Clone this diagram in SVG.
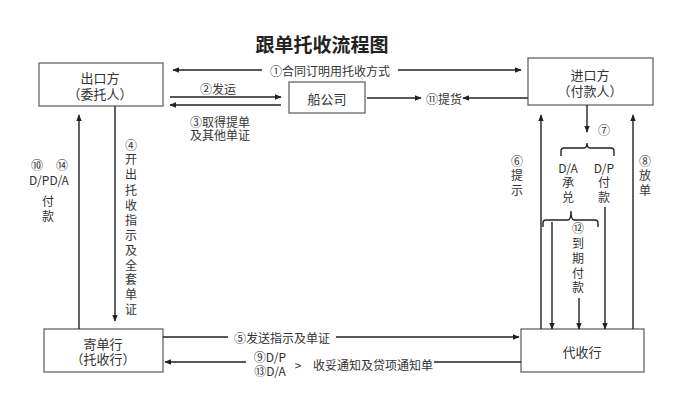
<svg xmlns="http://www.w3.org/2000/svg" width="686" height="403" viewBox="0 0 686 403">
<defs>
<marker id="ah" viewBox="0 0 10 10" refX="9" refY="5" markerWidth="7" markerHeight="7" orient="auto-start-reverse" markerUnits="userSpaceOnUse">
<path d="M0,1 L10,5 L0,9 Z" fill="#222"/>
</marker>
<style>
.box{fill:#fff;stroke:#666;stroke-width:1.3}
.t{font-family:"Noto Sans CJK SC","Noto Sans",sans-serif;font-size:12px;fill:#333;text-anchor:middle;dominant-baseline:central}
.bt{font-family:"Noto Sans CJK SC","Noto Sans",sans-serif;font-size:13px;fill:#333;text-anchor:middle;dominant-baseline:central}
.ln{stroke:#222;stroke-width:1.4;fill:none}
.a{marker-end:url(#ah)}
</style>
</defs>
<rect width="686" height="403" fill="#fff"/>
<text x="322" y="43" font-family="'Noto Sans CJK SC',sans-serif" font-size="19" font-weight="bold" fill="#222" text-anchor="middle" dominant-baseline="central">跟单托收流程图</text>

<g id="exporter"><rect class="box" x="39" y="63" width="124" height="43"/><text class="bt" x="100" y="77">出口方</text><text class="bt" x="100" y="93">（委托人）</text></g>
<g id="importer"><rect class="box" x="528" y="58" width="125" height="47"/><text class="bt" x="590" y="74">进口方</text><text class="bt" x="590" y="90">（付款人）</text></g>
<g id="shipping"><rect class="box" x="289" y="82" width="76" height="31"/><text class="bt" x="327" y="98">船公司</text></g>
<g id="remitting"><rect class="box" x="44" y="329" width="119" height="43"/><text class="bt" x="103" y="343">寄单行</text><text class="bt" x="103" y="358">（托收行）</text></g>
<g id="collecting"><rect class="box" x="521" y="329" width="123" height="43"/><text class="bt" x="582" y="351">代收行</text></g>

<g id="connectors">
<line class="ln a" x1="262" y1="70" x2="173" y2="70"/>
<line class="ln a" x1="398" y1="70" x2="521" y2="70"/>
<line class="ln a" x1="170" y1="97" x2="281" y2="97"/>
<line class="ln a" x1="281" y1="105" x2="170" y2="105"/>
<line class="ln a" x1="367" y1="98" x2="421" y2="98"/>
<line class="ln a" x1="528" y1="98" x2="463" y2="98"/>
<line class="ln a" x1="115" y1="106" x2="115" y2="321"/>
<line class="ln a" x1="79" y1="329" x2="79" y2="115"/>
<line class="ln" x1="163" y1="337" x2="228" y2="337"/>
<line class="ln a" x1="336" y1="337" x2="519" y2="337"/>
<line class="ln" x1="521" y1="362" x2="434" y2="362"/>
<line class="ln a" x1="246" y1="362" x2="165" y2="362"/>
<line class="ln a" x1="541" y1="329" x2="541" y2="115"/>
<line class="ln a" x1="633" y1="329" x2="633" y2="115"/>
<line class="ln a" x1="587" y1="105" x2="587" y2="132"/>
<path class="ln" d="M561,156 V151 Q561,148 564,148 H584 Q587,148 587,143 Q587,148 590,148 H611 Q614,148 614,151 V156" stroke-width="1.2"/>
<path class="ln" d="M543,227 V223 Q543,220 546,220 H568 Q571,220 571,211 Q571,220 574,220 H595 Q598,220 598,223 V227" stroke-width="1.2"/>
<line class="ln a" x1="552" y1="222" x2="552" y2="329"/>
<line class="ln a" x1="579" y1="298" x2="579" y2="329"/>
<line class="ln a" x1="605" y1="207" x2="605" y2="329"/>
</g>

<g id="labels">
<text class="t" x="330" y="70">①合同订明用托收方式</text>
<text class="t" x="218" y="88">②发运</text>
<text class="t" x="220" y="121">③取得提单</text>
<text class="t" x="220" y="134">及其他单证</text>
<text class="t" x="444" y="98">⑪提货</text>
<g class="t">
<text class="t" x="131" y="144">④</text>
<text class="t" x="131" y="158">开</text>
<text class="t" x="131" y="173">出</text>
<text class="t" x="131" y="189">托</text>
<text class="t" x="131" y="204">收</text>
<text class="t" x="131" y="219">指</text>
<text class="t" x="131" y="234">示</text>
<text class="t" x="131" y="249">及</text>
<text class="t" x="131" y="264">全</text>
<text class="t" x="131" y="278">套</text>
<text class="t" x="131" y="293">单</text>
<text class="t" x="131" y="308">证</text>
</g>
<text class="t" x="37" y="164">⑩</text>
<text class="t" x="62" y="164">⑭</text>
<text class="t" x="49" y="179" font-size="13">D/PD/A</text>
<text class="t" x="48" y="200">付</text>
<text class="t" x="48" y="215">款</text>
<text class="t" x="517" y="160">⑥</text>
<text class="t" x="517" y="174">提</text>
<text class="t" x="517" y="189">示</text>
<text class="t" x="645" y="160">⑧</text>
<text class="t" x="645" y="174">放</text>
<text class="t" x="645" y="189">单</text>
<text class="t" x="604" y="129">⑦</text>
<text class="t" x="568" y="167" font-size="13">D/A</text>
<text class="t" x="568" y="181">承</text>
<text class="t" x="568" y="196">兑</text>
<text class="t" x="604" y="167" font-size="13">D/P</text>
<text class="t" x="604" y="181">付</text>
<text class="t" x="604" y="196">款</text>
<text class="t" x="578" y="227">⑫</text>
<text class="t" x="578" y="242">到</text>
<text class="t" x="578" y="257">期</text>
<text class="t" x="578" y="272">付</text>
<text class="t" x="578" y="286">款</text>
<text class="t" x="282" y="337">⑤发送指示及单证</text>
<text class="t" x="270" y="356" font-size="13">⑨D/P</text>
<text class="t" x="270" y="370" font-size="13">⑬D/A</text>
<text class="t" x="298" y="364" font-size="15">&gt;</text>
<text class="t" x="373" y="364">收妥通知及贷项通知单</text>
</g>
</svg>
